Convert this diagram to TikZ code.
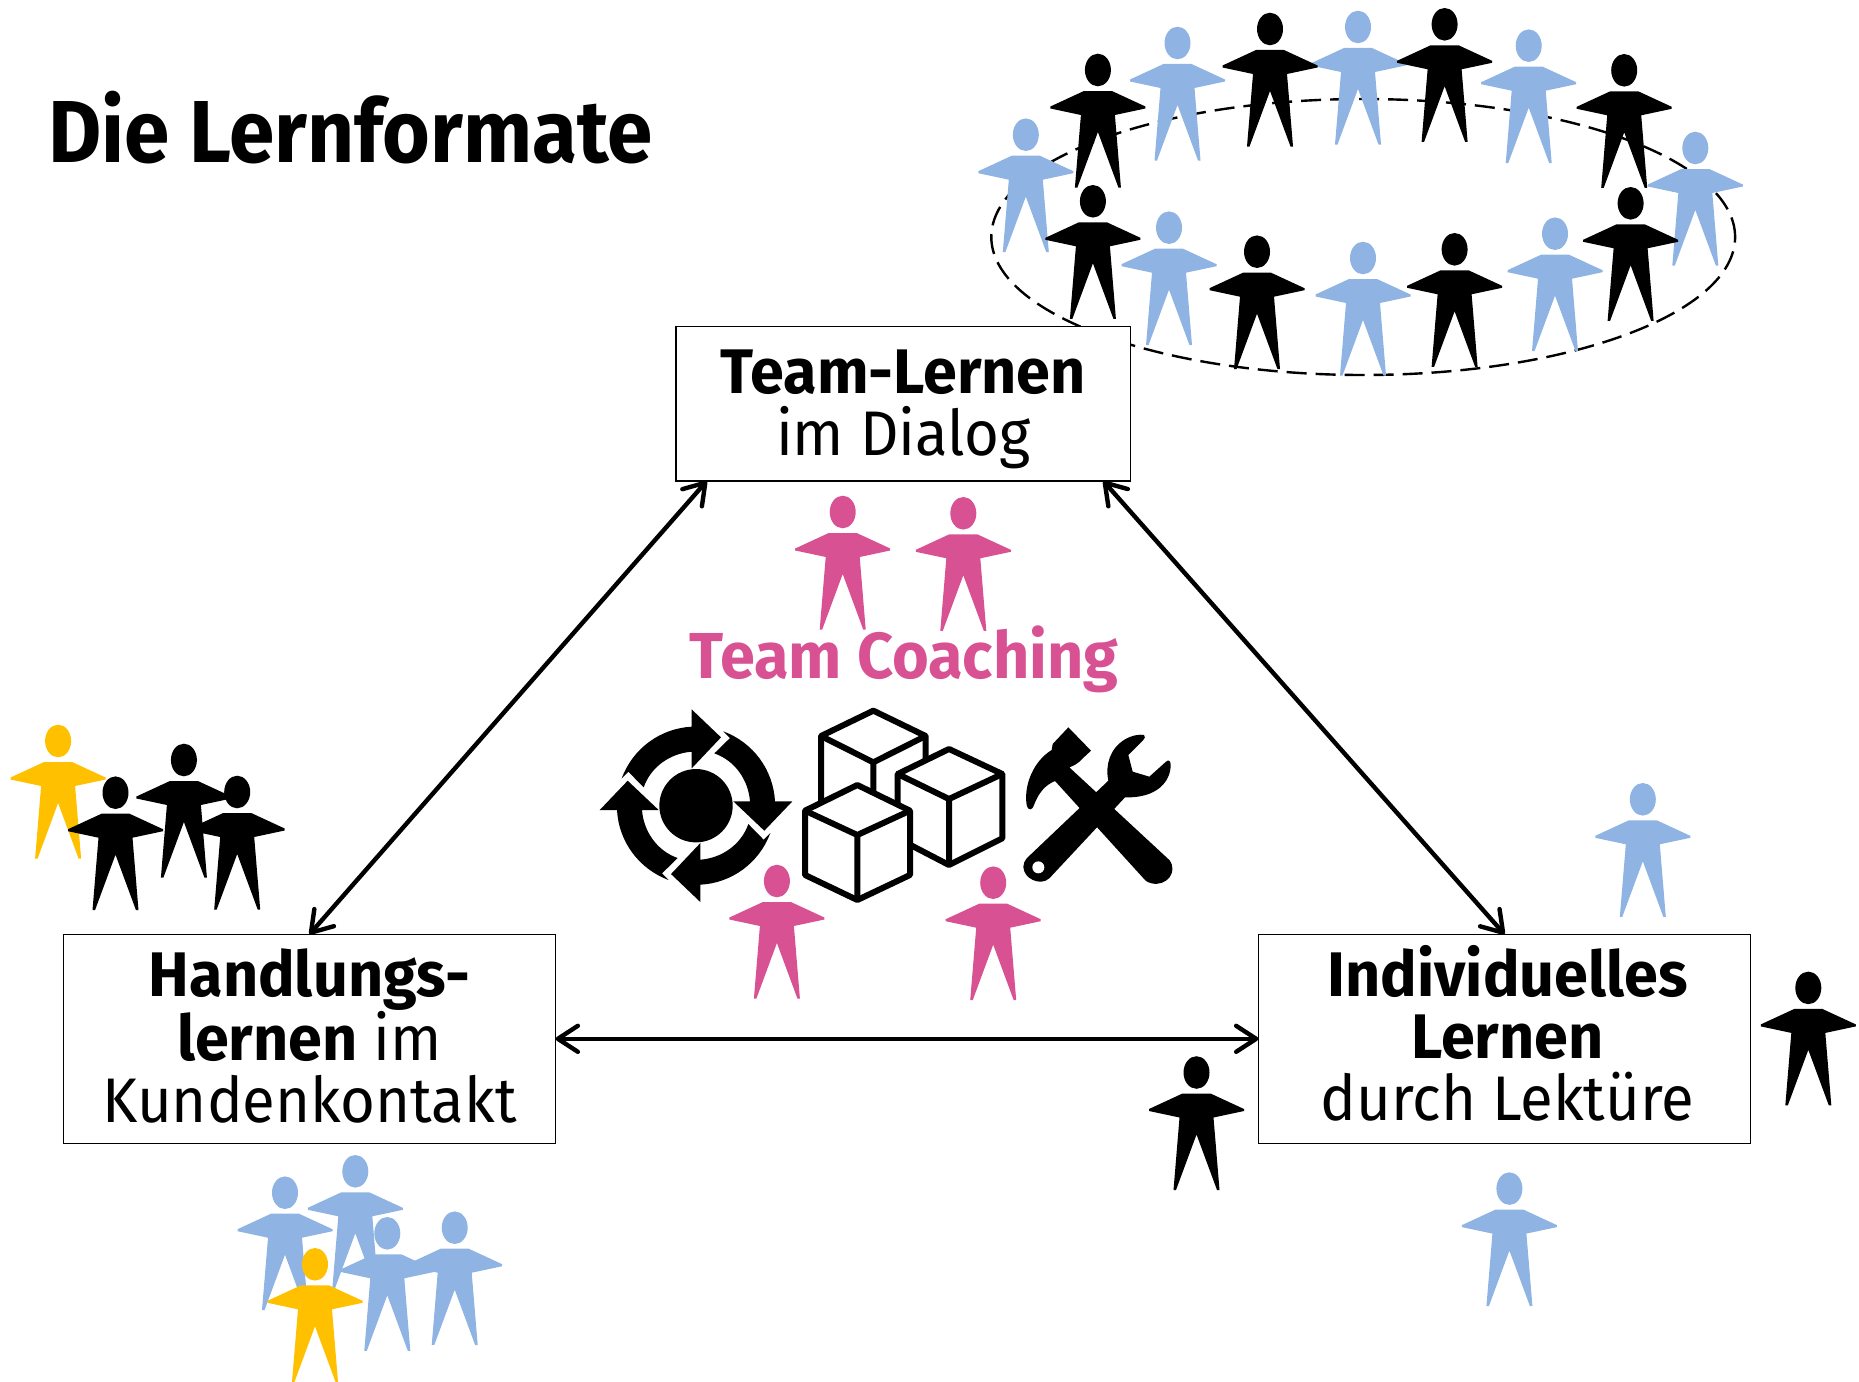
\documentclass[tikz,border=0pt]{standalone}
\usepackage{fontspec}
\setmainfont{Fira Sans}[FakeStretch=0.95,BoldFeatures={FakeStretch=0.97}]
\newfontfamily\titlefont{Fira Sans}[FakeStretch=0.93]
\usetikzlibrary{arrows.meta,calc,shapes.geometric}
\definecolor{pblue}{HTML}{8FB4E3}
\definecolor{pblack}{HTML}{000000}
\definecolor{ppink}{HTML}{D85293}
\definecolor{pyellow}{HTML}{FFC000}
\tikzset{
  person/.pic={
    \fill (0,0) ellipse [x radius=13,y radius=16.3];
    \fill (-14,21) -- (14,21) -- (47.5,36.5) -- (47.5,38.5) -- (17,45) -- (23,117.5) -- (20.5,117.5) -- (0,62) -- (-20.5,117.5) -- (-23,117.5) -- (-17,45) -- (-47.5,38.5) -- (-47.5,36.5) -- cycle;
  },
  boxnode/.style={draw=black,line width=1.3pt,fill=white,inner sep=0pt,outer sep=0pt},
  link/.style={line width=4.4pt,line cap=round,{Straight Barb[length=20pt,width=26pt,line width=4.4pt,round]}-{Straight Barb[length=20pt,width=26pt,line width=4.4pt,round]}},
  cube/.style={draw=black,fill=white,line width=6pt,line join=round},
  cubeline/.style={draw=black,line width=6pt,line join=round},
}
\newcommand{\boxtext}[5]{\parbox[c][#2pt][t]{#1pt}{\fontsize{63}{62}\selectfont\centering\leftskip=#5pt plus 1fil\relax\rule{0pt}{#3pt}#4\par}}
\begin{document}
\begin{tikzpicture}[x=1pt,y=-1pt]
\useasboundingbox (0,0) rectangle (1859,1381);
% ring
\node[draw=black,line width=2.4pt,dash pattern=on 20pt off 9pt,ellipse,inner sep=0pt,minimum width=743.8pt,minimum height=276pt] (ring) at (1363.2,237) {};
\foreach \px/\py in {1025.8/134.7,1177.5/43,1358/27,1528.7/45.7,1695.3/148,1169/227.7,1363/258,1555/233.7}
  \pic[fill=pblue] at (\px,\py) {person};
\foreach \px/\py in {1097.9/70,1270/29,1444.6/24.3,1624.2/70.3,1092.9/201.3,1257/251.7,1454.6/249.3,1630.6/203.3}
  \pic[fill=pblack] at (\px,\py) {person};
% title
\node[anchor=base west,inner sep=0pt,font=\fontsize{88}{88}\titlefont\bfseries] (title) at (48,162.5) {Die Lernformate};
% boxes
\node[boxnode] (team) at (903.4,403.7) {\boxtext{454.7}{154.7}{67.4}{\textbf{Team-Lernen}\\im Dialog}{0}};
\node[boxnode] (hand) at (309.5,1038.8) {\boxtext{492.3}{209}{62.2}{\textbf{Handlungs-}\\\textbf{lernen} im\\Kundenkontakt}{0}};
\node[boxnode] (indiv) at (1504.5,1038.8) {\boxtext{492.3}{209}{62.5}{\textbf{Individuelles}\\\textbf{Lernen}\\durch Lektüre}{6}};
% connectors
\draw[link] ([xshift=30.7pt]team.south west) -- (hand.north);
\draw[link] ([xshift=-27.4pt]team.south east) -- (indiv.north);
\draw[link] (hand.east) -- (indiv.west);
% coaching
\foreach \px/\py in {842.7/512,963.3/513.3,776.9/881,993.2/882.7}
  \pic[fill=ppink] at (\px,\py) {person};
\node[anchor=base,inner sep=0pt,text=ppink,font=\fontsize{65}{65}\selectfont\bfseries] (coach) at (904,678) {Team Coaching};
% left group
\pic[fill=pyellow] at (58.1,741) {person};
\foreach \px/\py in {183.9/760,115.5/792.7,237.2/792}
  \pic[fill=pblack] at (\px,\py) {person};
% bottom group
\foreach \px/\py in {285/1192.7,355.3/1171.3,454.7/1227.7,387.3/1233.3}
  \pic[fill=pblue] at (\px,\py) {person};
\pic[fill=pyellow] at (315,1264.3) {person};
% right persons
\foreach \px/\py in {1642.8/799.3,1509.4/1188.6}
  \pic[fill=pblue] at (\px,\py) {person};
\foreach \px/\py in {1808.3/987.9,1196.5/1072.5}
  \pic[fill=pblack] at (\px,\py) {person};
% cycle icon
\begin{scope}[shift={(696,805.7)},scale=1/3]
  \fill[black] (0,0) circle (110);
  \foreach \a in {0,90,180,270}{
    \fill[black,rotate=\a] (-223,-82) -- (-203,-102) -- (-157,-55) .. controls (-135.5,-116.5) and (-78,-157) .. (-13,-162) -- (-13,-112) -- (75,-205) -- (-13,-289) -- (-13,-237) .. controls (-108,-232) and (-190,-171) .. cycle;
  }
\end{scope}
% cubes icon
\begin{scope}[shift={(795,700)},scale=1/3]
  \path[cube] (78,108) -- (235,32) -- (392,108) -- (392,300) -- (235,380) -- (78,312) -- cycle;
  \path[cubeline] (78,108) -- (235,187) -- (392,108) (235,187) -- (235,300);
  \path[cube] (308,222) -- (462,147) -- (622,222) -- (622,415) -- (462,495) -- (308,415) -- cycle;
  \path[cubeline] (308,222) -- (462,297) -- (622,222) (462,297) -- (462,495);
  \path[cube] (30,332) -- (187,255) -- (345,332) -- (345,525) -- (187,600) -- (30,525) -- cycle;
  \path[cubeline] (30,332) -- (187,405) -- (345,332) (187,405) -- (187,600);
\end{scope}
% tools icon
\begin{scope}[shift={(1010,710)},scale=1/3]
  % wrench
  \fill[black] (50,445) -- (295,212) .. controls (285,165) and (300,115) .. (345,88) .. controls (365,76) and (390,72) .. (402,75) .. controls (408,78) and (404,85) .. (398,92) -- (355,135) -- (368,185) -- (418,200) -- (468,155) .. controls (476,148) and (482,152) .. (482,165) .. controls (482,215) and (440,265) .. (345,262) -- (118,505) .. controls (90,530) and (40,505) .. (40,470) .. controls (40,462) and (44,452) .. (50,445) -- cycle;
  \fill[white] (85,472) circle (18);
  % hammer
  \fill[black] (175,52) -- (243,122) -- (215,148) .. controls (205,160) and (190,168) .. (178,172) -- (478,450) .. controls (505,485) and (470,530) .. (425,520) .. controls (415,518) and (410,515) .. (405,510) -- (135,213) .. controls (105,225) and (85,250) .. (72,285) .. controls (68,300) and (55,305) .. (50,285) .. controls (40,220) and (75,150) .. (125,120) -- (128,102) -- cycle;
\end{scope}
\end{tikzpicture}
\end{document}
